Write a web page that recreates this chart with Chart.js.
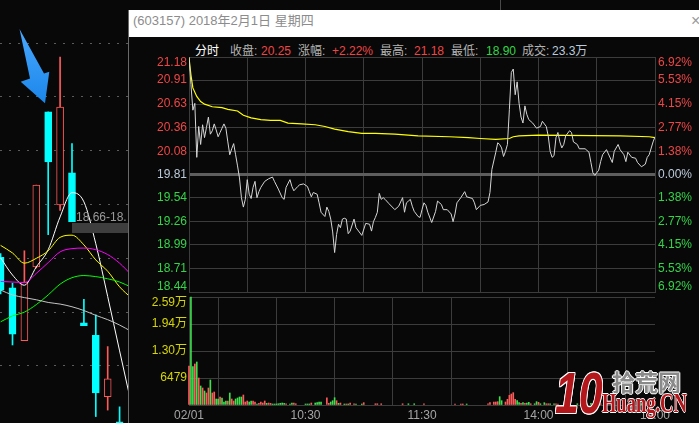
<!DOCTYPE html>
<html><head><meta charset="utf-8">
<script src="https://cdn.jsdelivr.net/npm/chart.js@4/dist/chart.umd.min.js"></script>
<style>
html,body{margin:0;padding:0;background:#080808;}
body{width:699px;height:423px;position:relative;overflow:hidden;font-family:"Liberation Sans","Noto Sans CJK SC",sans-serif;}
.abs{position:absolute;white-space:nowrap;}
canvas{position:absolute;display:block;}
.info{position:absolute;top:43px;font-size:12px;line-height:16px;white-space:nowrap;}
</style></head><body>

<!-- background K-line chart -->
<canvas id="kline" width="128" height="423" style="left:0;top:0"></canvas>
<svg class="abs" style="left:0;top:0" width="128" height="130">
  <defs><linearGradient id="ag" x1="0" y1="0" x2="0" y2="1"><stop offset="0" stop-color="#4aa8ff"/><stop offset="1" stop-color="#1a86ea"/></linearGradient></defs>
  <polygon points="19.5,29 44,73.5 49.3,71.7 45,103.3 20.7,81.7 30,78.4" fill="url(#ag)"/>
</svg>
<div class="abs" style="left:76px;top:210px;font-size:12px;line-height:14px;color:#9a9a9a;">18.66-18.</div>
<div class="abs" style="left:72px;top:223px;width:56px;height:10px;background:#3e3e3e;"></div>
<div class="abs" style="left:500px;top:0;width:1px;height:10px;background:#4a4a4a;"></div>

<!-- popup -->
<div class="abs" style="left:128px;top:10px;width:1px;height:413px;background:#6a6a6a;"></div>
<div class="abs" style="left:129px;top:10px;width:570px;height:27px;background:#ffffff;"></div>
<div class="abs" style="left:133px;top:12px;font-size:13px;line-height:17px;color:#8c8c8c;">(603157) 2018年2月1日 星期四</div>
<div class="abs" style="left:691px;top:12px;font-size:16px;line-height:18px;color:#9a9a9a;">×</div>

<div class="info" style="left:195px;color:#ffffff;">分时</div>
<div class="info" style="left:230px;color:#b4b4b4;">收盘:</div>
<div class="info" style="left:261px;color:#ee4646;">20.25</div>
<div class="info" style="left:298px;color:#b4b4b4;">涨幅:</div>
<div class="info" style="left:332px;color:#ee4646;">+2.22%</div>
<div class="info" style="left:380px;color:#b4b4b4;">最高:</div>
<div class="info" style="left:414px;color:#ee4646;">21.18</div>
<div class="info" style="left:451px;color:#b4b4b4;">最低:</div>
<div class="info" style="left:486px;color:#33d448;">18.90</div>
<div class="info" style="left:522px;color:#b4b4b4;">成交:</div>
<div class="info" style="left:552px;color:#bccadb;">23.3万</div>

<canvas id="price" width="569" height="246" style="left:130px;top:50px"></canvas>
<canvas id="vol" width="569" height="129" style="left:130px;top:294px"></canvas>

<!-- watermark -->
<div class="abs" style="left:555px;top:364px;font-family:'Liberation Sans';font-weight:900;font-style:italic;font-size:58px;line-height:58px;color:#b3161b;transform:scaleX(0.74);transform-origin:0 0;text-shadow:1px 0 #fff,-1px 0 #fff,0 1px #fff,0 -1px #fff,1px 1px #fff,-1px -1px #fff,1px -1px #fff,-1px 1px #fff;">10</div>
<div class="abs" style="left:612px;top:370px;font-family:'Noto Sans CJK SC';font-weight:700;font-size:23px;line-height:23px;color:#8a8a8a;text-shadow:1px 0 #fff,-1px 0 #fff,0 1px #fff,0 -1px #fff;">拾荒网</div>
<div class="abs" style="left:602px;top:389px;font-family:'Liberation Serif';font-weight:700;font-size:28px;line-height:28px;color:#b3161b;transform:scaleX(0.66);transform-origin:0 0;text-shadow:1px 0 #fff,-1px 0 #fff,0 1px #fff,0 -1px #fff;">Huang.CN</div>

<script>
// ---------------- data: background daily K-line ----------------
const candleIndex = [0,1,2,3,4,5,6,7,8,9,10];
const candleOpen  = [18.48,17.91,16.93,18.30,21.18,19.45,20.05,17.26,17.03,15.89,15.42];
const candleClose = [17.87,17.05,18.02,19.82,20.25,21.27,19.14,17.21,15.96,16.22,15.00];
const candleHigh  = [18.55,18.00,18.60,19.82,21.18,22.20,20.59,17.70,17.41,16.82,15.70];
const candleLow   = [17.80,16.85,16.93,18.28,18.90,19.35,19.14,17.21,15.52,15.64,14.90];
const maIndex   = [0,1,2,3,4,5,6,7,8,9,10,11];
const maWhite   = [18.47,18.15,17.96,18.30,18.62,19.23,19.68,19.51,18.73,17.75,16.74,15.74];
const maYellow  = [18.70,18.56,18.37,18.46,18.60,18.85,18.89,18.71,18.43,18.22,17.93,17.72];
const maMagenta = [18.03,18.02,18.01,18.18,18.38,18.58,18.64,18.65,18.62,18.53,18.37,18.15];
const maGreen   = [17.28,17.39,17.46,17.60,17.78,17.98,18.10,18.14,18.12,18.08,18.02,17.92];
const maGray    = [17.87,17.78,17.73,17.69,17.64,17.61,17.56,17.49,17.40,17.32,17.22,17.10];
const leftGridLevels = [16.46,17.46,18.46,19.46,20.46,21.46,22.46];

// ---------------- data: intraday (minutes after 9:30, trading time) ----------------
const priceMinutes = [0,1,2,3,4,5,6,7,8,9,10,11,12,13,14,15,16,17,18,19,20,21,22,23,24,25,26,27,28,29,
  30,31,32,33,34,35,36,37,39,41,43,44,46,48,49,50,52,53,54,56,57,59,61,62,63,64,66,67,68,70,
  71,72,73,74,75,76,77,78,79,80,81,82,83,85,86,89,91,93,94,95,96,97,98,99,100,101,103,106,108,110,
  111,112,113,114,115,116,118,119,120,121,122,123,125,127,128,130,131,133,135,136,137,138,140,142,143,146,147,148,150,
  152,154,155,156,158,159,160,161,162,163,164,165,166,167,168,169,170,171,172,173,174,175,177,179,181,182,184,185,186,187,
  188,189,190,191,192,193,194,196,197,198,200,201,204,206,207,208,209,211,212,213,215,216,218,219,221,222,224,225,226,228,
  230,231,233,235,236,237,239,240];
const priceValues = [21.18,20.86,20.56,20.64,20.01,20.37,20.16,20.39,20.24,20.36,20.48,20.28,20.32,20.40,20.33,20.25,20.30,20.35,20.40,20.35,
  20.19,20.04,20.11,20.17,20.04,19.91,19.77,19.54,19.43,19.52,
  19.75,19.58,19.53,19.66,19.73,19.54,19.61,19.66,19.73,19.76,19.78,19.73,19.64,19.54,19.52,19.66,19.75,19.67,19.62,19.67,
  19.69,19.70,19.67,19.61,19.55,19.60,19.58,19.48,19.37,19.32,
  19.43,19.38,19.29,19.14,18.90,19.11,19.23,19.19,19.29,19.30,19.29,19.12,19.15,19.29,19.19,19.10,19.24,19.23,19.15,19.26,
  19.31,19.37,19.59,19.52,19.54,19.52,19.47,19.40,19.44,19.54,
  19.37,19.48,19.50,19.52,19.44,19.38,19.32,19.31,19.40,19.48,19.45,19.37,19.25,19.38,19.50,19.46,19.40,19.40,19.35,19.26,
  19.35,19.48,19.54,19.61,19.55,19.53,19.48,19.40,19.45,
  19.46,19.49,19.60,19.87,20.07,20.18,20.16,20.12,20.02,20.08,20.16,20.57,21.00,21.04,20.74,20.89,20.64,20.48,20.41,20.61,
  20.51,20.45,20.41,20.35,20.37,20.43,20.37,20.26,20.08,20.01,
  20.03,20.24,20.30,20.19,20.12,20.16,20.26,20.32,20.30,20.19,20.16,20.11,20.11,20.07,19.95,19.83,19.80,19.86,19.96,20.04,
  20.10,20.05,19.95,20.08,20.16,20.10,20.04,19.96,20.07,20.01,
  20.00,19.95,19.90,19.93,20.01,20.04,20.19,20.25];
const avgMinutes = [0,1,2,4,6,8,12,17,20,25,28,32,37,42,47,51,58,65,70,75,82,89,96,106,118,134,144,150,158,165,167,170,180,222,237,240];
const avgValues  = [21.17,20.97,20.82,20.72,20.66,20.63,20.60,20.59,20.57,20.55,20.50,20.47,20.45,20.44,20.44,20.41,20.40,20.39,20.37,20.34,
  20.31,20.29,20.29,20.28,20.26,20.25,20.24,20.23,20.22,20.23,20.25,20.26,20.27,20.26,20.25,20.24];

const volMinutes = [0,1,2,3,4,5,6,7,8,9, 10,11,12,13,14,15,16,17,18,19, 20,21,22,23,24,25,26,27,28,29,
  30,31,32,33,34,35,36,37,38,39, 40,41,42,43,44,45,46,47,48,49, 50, 52,53,54,55, 60,61,62,63, 65,66,67,68,
  71,72,73,74,75,76,77,78, 80,81,82,83, 85,86, 89,90, 96,97,99, 110,113,116, 121, 137,140,141,143, 154,155,
  157,158,159,160,161, 163,164,165,166,167,168,169,170,171,172,173,174,175,176, 178,179,180,181, 183,184,185,186,
  188,189,190, 200, 207,212,219,226,233, 239,240];
const volValues = [9360,25900,9190,9840,10320,6480,4560,4080,3360,2880, 4080,6000,2880,3120,1440,1440,1920,1680,720,960,
  960,2880,1440,960,1440,1680,1920,1920,2400,720, 960,720,960,960,720,240,400,720,480,960,
  400,480,400,240,240,240,300,400,480,400, 300, 240,480,480,300, 240,240,240,480, 480,560,720,720,
  1700,400,720,1030,1750,1030,400,480, 240,240,240,480, 300,240, 240,560, 300,300,300, 300,300,300, 300,
  240,240,240,240, 300,560, 720,720,800,2000,1040, 720,1360,2320,2640,2960,1360,1040,560,400,560,400,480,640,300,
  300,800,640,300, 560,300,300,300, 300,300,240, 300, 400,300,300,300,300, 500,900];
const volUp = [1,0,0,1,0,1,0,1,0,1, 1,0,1,1,0,0,1,0,0,0, 1,0,1,1,0,0,0,0,1,1, 1,0,0,1,1,0,1,1,1,1,
  0,1,1,0,0,0,0,0,0,0, 1, 0,0,1,1, 0,0,0,1, 0,0,0,0, 1,1,0,0,0,1,0,1, 0,1,0,1, 1,0, 0,1, 1,1,1, 1,0,0, 1,
  1,1,1,0, 1,1, 1,1,1,0,0, 1,1,1,1,1,1,0,0,1,0,1,0,0,1, 0,0,1,0, 0,1,1,0, 0,1,1, 0, 0,1,1,1,0, 1,1];

// ---------------- axis labels ----------------
const priceTickLabels = ['18.44','18.71','18.99','19.26','19.54','19.81','20.08','20.36','20.63','20.91','21.18'];
const pctTickLabels   = ['6.92%','5.53%','4.15%','2.77%','1.38%','0.00%','1.38%','2.77%','4.15%','5.53%','6.92%'];
const volTickValues   = [0,6479,12958,19437,25916];
const volTickLabels   = ['','6479','1.30万','1.94万','2.59万'];
const timeTickMinutes = [0,60,120,180,240];
const timeTickLabels  = ['02/01','10:30','11:30','14:00','15:00'];

// ---------------- styles ----------------
const RED = '#ee4646', GREEN = '#33d448', NEUTRAL = '#bccadb', YEL = '#d6d600';
const GRID = '#3c3c3c';
const LABEL_FONT = '12px "Liberation Sans", "Noto Sans CJK SC", sans-serif';

const sideLabels = {
  id: 'sideLabels',
  afterDraw(chart, args, opts) {
    const {ctx, chartArea} = chart;
    const y = chart.scales.y;
    ctx.save();
    ctx.font = LABEL_FONT;
    ctx.textBaseline = 'middle';
    (opts.items || []).forEach(it => {
      let py = y.getPixelForValue(it.value);
      py = Math.min(Math.max(py, chartArea.top + 6), chartArea.bottom - 5);
      ctx.fillStyle = it.color;
      if (it.side === 'left') { ctx.textAlign = 'right'; ctx.fillText(it.text, chartArea.left - 2, py); }
      else { ctx.textAlign = 'left'; ctx.fillText(it.text, chartArea.right + 3, py); }
    });
    ctx.restore();
  }
};

const common = {responsive:false, animation:false, devicePixelRatio:1, events:[]};

// ---------------- K-line ----------------
const isUp = i => candleClose[i] >= candleOpen[i];
const UPC = '#ff5a5a', DNC = '#00ffff';
function maSet(vals, color){
  return {type:'line', data: maIndex.map((x,i)=>({x, y: vals[i]})), borderColor: color, borderWidth: 1,
    pointRadius: 0, cubicInterpolationMode: 'monotone', order: 0};
}
new Chart(document.getElementById('kline'), {
  type: 'bar',
  data: {datasets: [
    maSet(maGray,'#c4c4c4'), maSet(maGreen,'#00ff00'), maSet(maMagenta,'#ff00ff'), maSet(maYellow,'#ffff00'), maSet(maWhite,'#ffffff'),
    {data: candleIndex.map((x,i)=>({x, y:[candleOpen[i], candleClose[i]]})),
     backgroundColor: candleIndex.map(i => isUp(i) ? '#080808' : DNC),
     borderColor: candleIndex.map(i => isUp(i) ? UPC : DNC),
     borderWidth: 1, borderSkipped: false, barThickness: 7, grouped: false, order: 1},
    {data: candleIndex.map((x,i)=>({x, y:[candleLow[i], candleHigh[i]]})),
     backgroundColor: candleIndex.map(i => isUp(i) ? UPC : DNC),
     barThickness: 1, grouped: false, order: 2}
  ]},
  options: {...common,
    layout: {padding: 0},
    plugins: {legend:{display:false}, tooltip:{enabled:false}},
    scales: {
      x: {type:'linear', min:-0.05, max:10.706, display:false, offset:false},
      y: {min:15.40, max:23.26, ticks:{display:false},
          afterBuildTicks: s => { s.ticks = leftGridLevels.map(v=>({value:v})); },
          afterFit: s => { s.width = 0; },
          grid: {color:'#5c5c5c', drawTicks:false}, border:{display:false, dash:[2,7]}}
    }
  }
});

// ---------------- intraday price ----------------
const pMin = parseFloat(priceTickLabels[0]), pMax = parseFloat(priceTickLabels[priceTickLabels.length-1]);
const centerIdx = 5;
const priceItems = [];
priceTickLabels.forEach((t,i) => {
  const c = i > centerIdx ? RED : (i < centerIdx ? GREEN : NEUTRAL);
  priceItems.push({value: parseFloat(t), text: t, color: c, side: 'left'});
  priceItems.push({value: parseFloat(t), text: pctTickLabels[i], color: c, side: 'right'});
});
new Chart(document.getElementById('price'), {
  type: 'line',
  data: {datasets: [
    {data: priceMinutes.map((m,i)=>({x:m, y:priceValues[i]})), borderColor:'#d6d6d6', borderWidth:1, pointRadius:0, tension:0},
    {data: avgMinutes.map((m,i)=>({x:m, y:avgValues[i]})), borderColor:'#ffff00', borderWidth:1.2, pointRadius:0, tension:0}
  ]},
  options: {...common,
    layout: {padding:{top:7, bottom:4, left:0, right:44}},
    plugins: {legend:{display:false}, tooltip:{enabled:false}, sideLabels:{items: priceItems}},
    scales: {
      x: {type:'linear', min:0, max:240, ticks:{display:false, stepSize:30},
          grid:{color:GRID, drawTicks:false}, border:{color:GRID}, afterFit: s => { s.height = 0; }},
      y: {min:pMin, max:pMax, ticks:{display:false},
          afterBuildTicks: s => { s.ticks = priceTickLabels.map(t=>({value: parseFloat(t)})); },
          afterFit: s => { s.width = 59; },
          grid:{color: c => c.index === centerIdx ? '#5e5e5e' : GRID, lineWidth: c => c.index === centerIdx ? 3 : 1, drawTicks:false},
          border:{color:GRID}}
    }
  },
  plugins: [sideLabels]
});

// ---------------- volume ----------------
const volItems = volTickLabels.map((t,i)=>({value: volTickValues[i], text: t, color: YEL, side: 'left'})).filter(o => o.text);
new Chart(document.getElementById('vol'), {
  type: 'bar',
  data: {datasets: [
    {data: volMinutes.map((m,i)=>({x:m, y:volValues[i]})),
     backgroundColor: volUp.map(u => u ? '#ff5a5a' : '#3ee04e'),
     barThickness: 1, grouped: false, clip: false}
  ]},
  options: {...common,
    layout: {padding:{top:3, bottom:0, left:0, right:44}},
    plugins: {legend:{display:false}, tooltip:{enabled:false}, sideLabels:{items: volItems}},
    scales: {
      x: {type:'linear', min:0, max:240, offset:false,
          ticks:{stepSize:30, autoSkip:false, maxRotation:0, color:'#a6a6a6', padding:3,
                 font:{family:'"Liberation Sans", sans-serif', size:12},
                 callback: v => { const k = timeTickMinutes.indexOf(v); return k >= 0 ? timeTickLabels[k] : ''; }},
          grid:{color:GRID, drawTicks:false}, border:{color:GRID}, afterFit: s => { s.height = 18; }},
      y: {min:0, max:volTickValues[volTickValues.length-1], ticks:{display:false},
          afterBuildTicks: s => { s.ticks = volTickValues.map(v=>({value:v})); },
          afterFit: s => { s.width = 59; },
          grid:{color:GRID, drawTicks:false}, border:{color:GRID}}
    }
  },
  plugins: [sideLabels]
});
</script>
</body></html>
